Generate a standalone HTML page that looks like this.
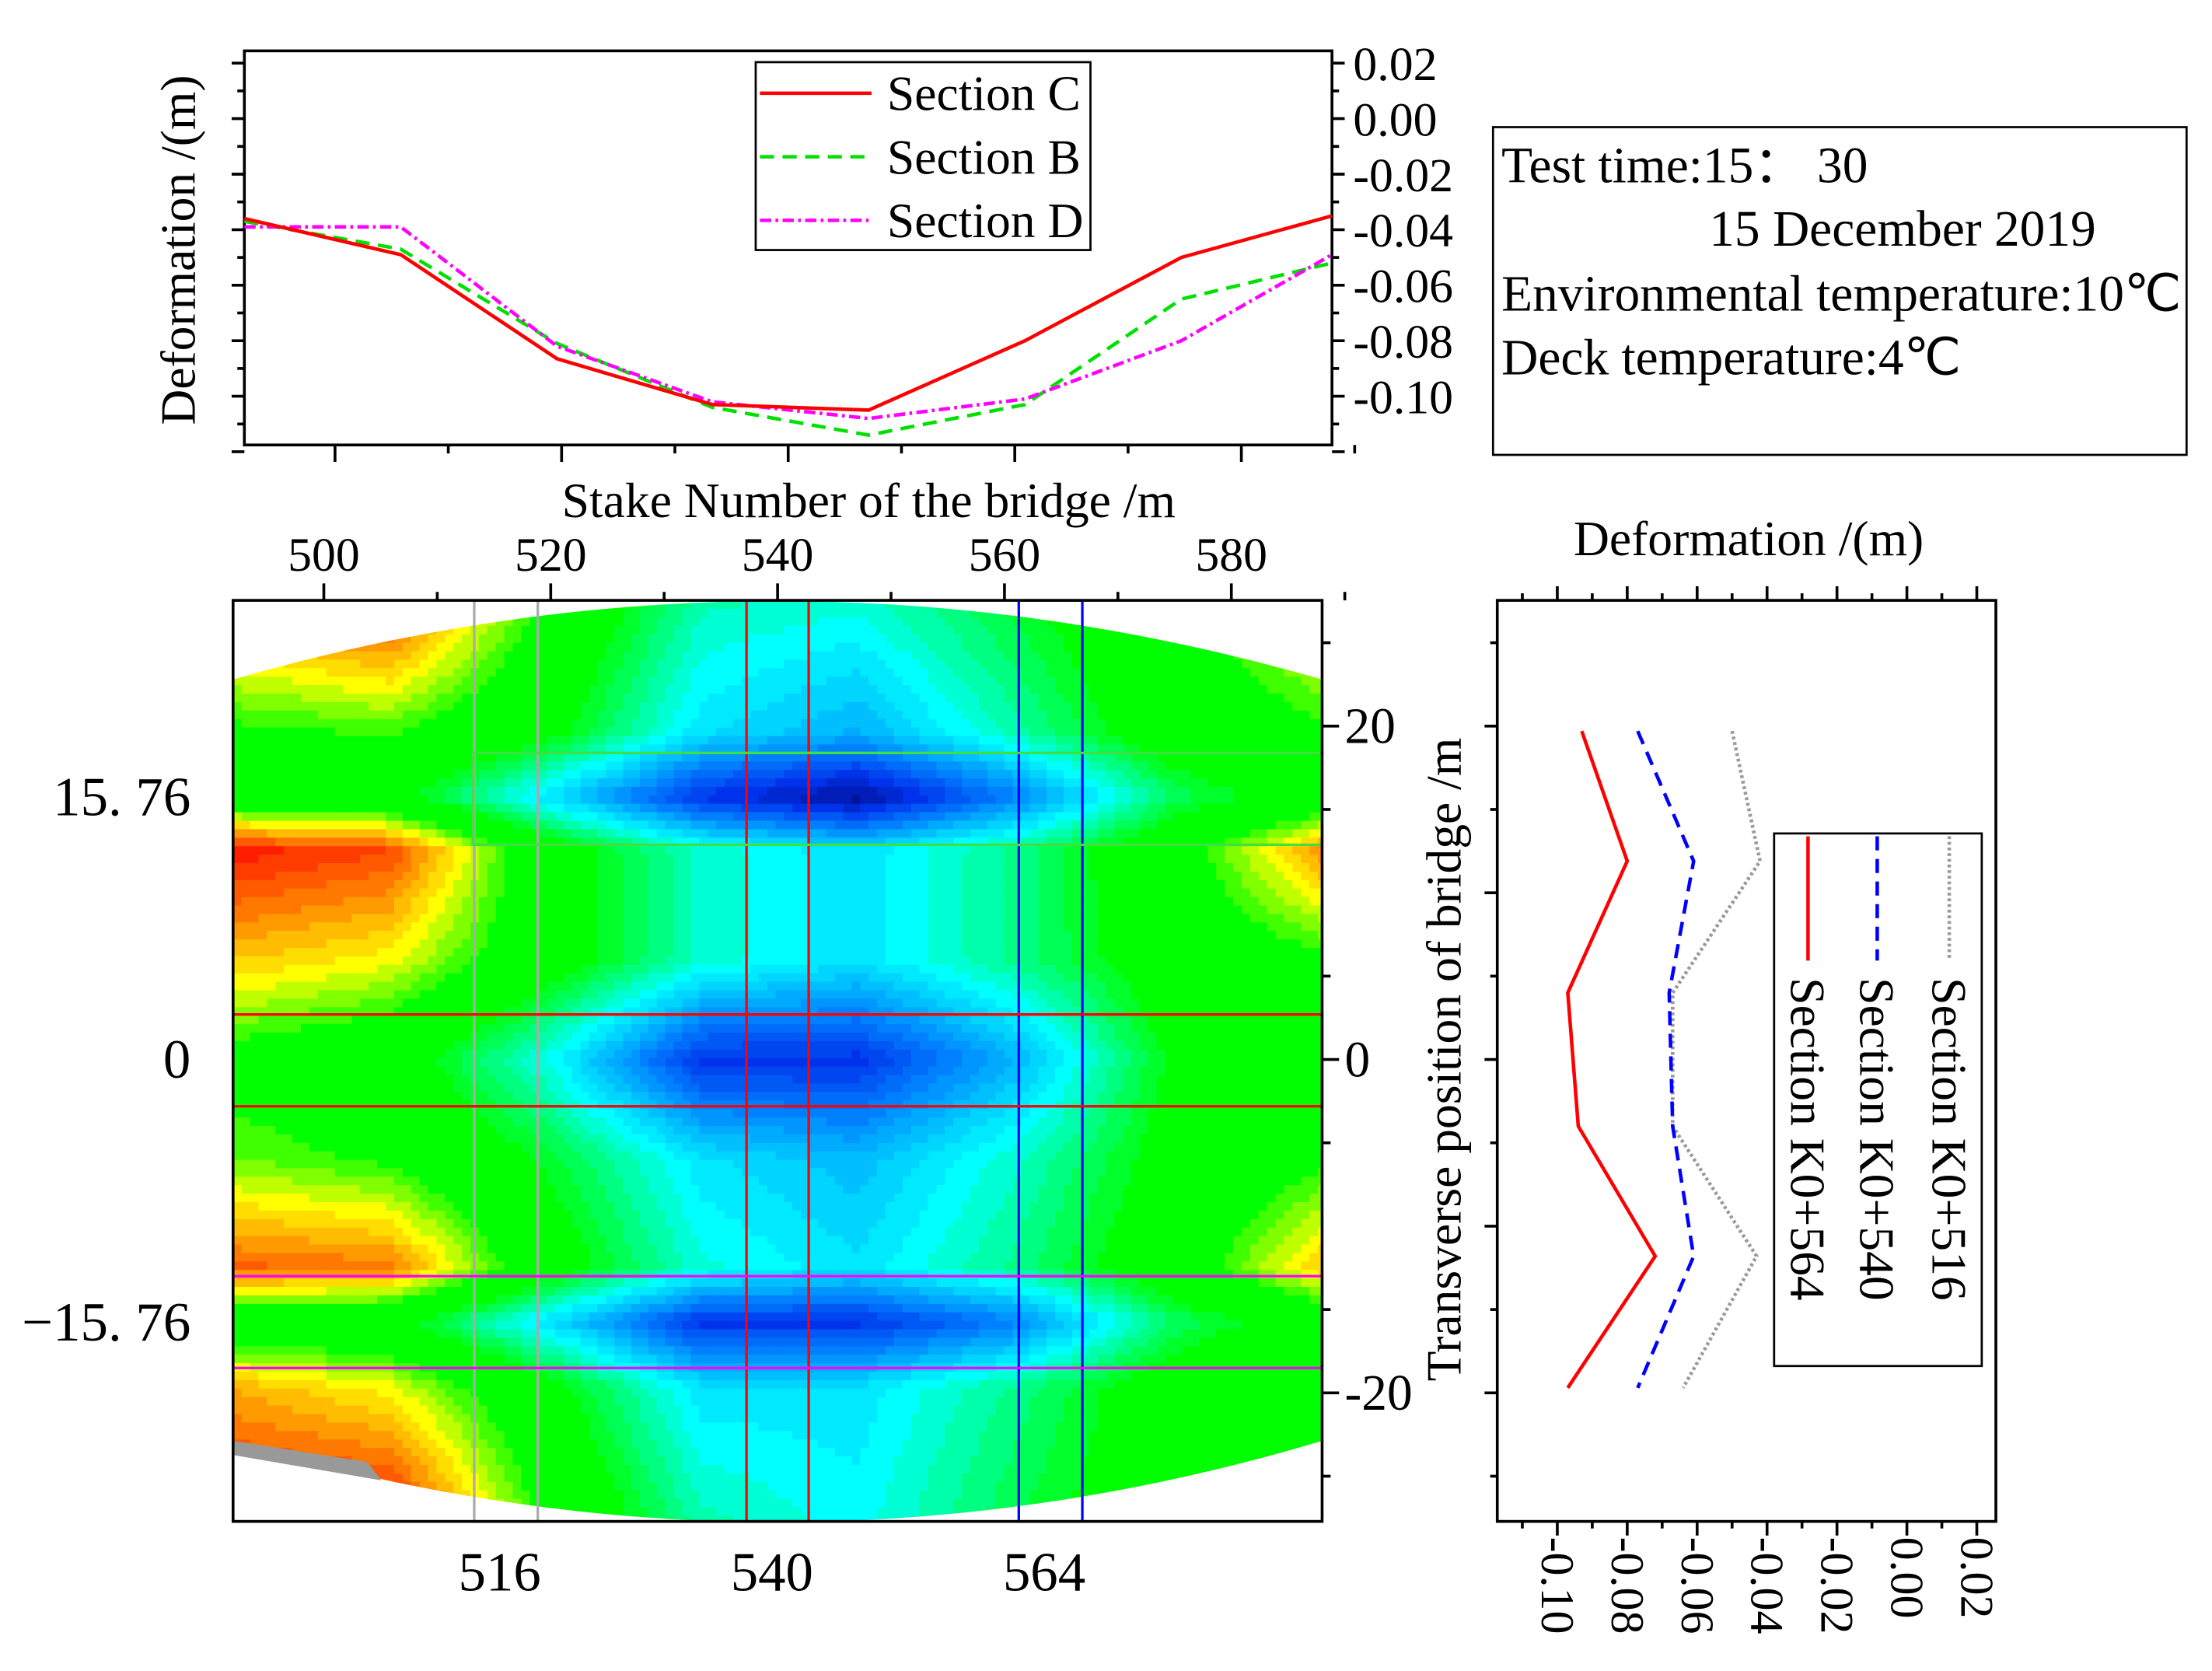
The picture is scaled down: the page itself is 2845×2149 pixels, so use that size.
<!DOCTYPE html>
<html><head><meta charset="utf-8"><style>html,body{margin:0;padding:0;background:#fff}svg{display:block}text{font-family:"Liberation Serif",serif;fill:#000}</style></head>
<body>
<svg id="s" width="2845" height="2149" viewBox="0 0 1566 1182.9" xmlns="http://www.w3.org/2000/svg">
<rect width="1570" height="1190" fill="#fff"/>
<g id="top"></g>
<g id="cont"></g>
<g id="side"></g>
<g>
<rect x="1057" y="90" width="491" height="232" fill="none" stroke="#000" stroke-width="1.5"/>
<text x="1063" y="129" font-size="36">Test time:15：  30</text>
<text x="1210" y="174" font-size="36">15 December  2019</text>
<text x="1063" y="220" font-size="36">Environmental temperature:10℃</text>
<text x="1063" y="265" font-size="36">Deck temperature:4℃</text>
</g>
</svg>
<script>
const NS="http://www.w3.org/2000/svg";
function mk(p,t,a){const e=document.createElementNS(NS,t);for(const k in a)e.setAttribute(k,a[k]);p.appendChild(e);return e;}
// ---- data ----
const stakes=[492,505.8,519.6,533.3,547.1,560.9,574.7,588];
const secC=[-0.036,-0.049,-0.0865,-0.103,-0.105,-0.080,-0.050,-0.035];
const secB=[-0.037,-0.047,-0.081,-0.104,-0.114,-0.103,-0.065,-0.052];
const secD=[-0.039,-0.039,-0.082,-0.102,-0.108,-0.101,-0.080,-0.049];
const topTicks=[0.02,0.00,-0.02,-0.04,-0.06,-0.08,-0.10];
const topTickLabels=["0.02","0.00","-0.02","-0.04","-0.06","-0.08","-0.10"];
const xTicks=[500,520,540,560,580];
const gridY=[28,19.7,15.76,12.5,6,0,-6,-12.5,-15.76,-19.7,-28];
const gridV=[
[-0.030,-0.022,-0.050,-0.070,-0.072,-0.062,-0.052,-0.036],
[-0.050,-0.048,-0.058,-0.078,-0.084,-0.070,-0.055,-0.050],
[-0.056,-0.058,-0.078,-0.100,-0.108,-0.090,-0.066,-0.056],
[-0.022,-0.026,-0.056,-0.072,-0.078,-0.068,-0.054,-0.032],
[-0.036,-0.040,-0.056,-0.072,-0.078,-0.068,-0.056,-0.050],
[-0.052,-0.056,-0.074,-0.100,-0.100,-0.084,-0.060,-0.055],
[-0.046,-0.050,-0.062,-0.078,-0.083,-0.072,-0.058,-0.050],
[-0.028,-0.030,-0.056,-0.073,-0.078,-0.068,-0.055,-0.036],
[-0.056,-0.058,-0.078,-0.100,-0.100,-0.090,-0.066,-0.056],
[-0.034,-0.040,-0.058,-0.078,-0.078,-0.068,-0.056,-0.050],
[-0.020,-0.020,-0.050,-0.070,-0.075,-0.064,-0.055,-0.050]];
const sideY=[19.7,11.9,4,-4,-11.8,-19.7];
const k564=[-0.093,-0.080,-0.097,-0.094,-0.072,-0.097];
const k540=[-0.077,-0.061,-0.068,-0.067,-0.061,-0.077];
const k516=[-0.050,-0.042,-0.067,-0.067,-0.043,-0.064];
const sideTicks=[-0.10,-0.08,-0.06,-0.04,-0.02,0.00,0.02];
const sideTickLabels=["-0.10","-0.08","-0.06","-0.04","-0.02","0.00","0.02"];
const transTicks=[20,0,-20];
const secMarks=[516,540,564];
// ---- top chart ----
const T=document.getElementById('top');
const tx=v=>173+(v-492)*(770/96), ty=v=>84-v*1965;
mk(T,'rect',{x:173,y:36,width:770,height:279,fill:'none',stroke:'#000','stroke-width':2});
for(let v=0.02;v>=-0.1201;v-=0.01){const y=ty(v);const maj=Math.abs(Math.round(v*100)%2)==0;
 mk(T,'line',{x1:173-(maj?9:5),x2:173,y1:y,y2:y,stroke:'#000','stroke-width':2});
 mk(T,'line',{x1:943,x2:943+(maj?9:5),y1:y,y2:y,stroke:'#000','stroke-width':2});}
topTicks.forEach((v,i)=>{const t=mk(T,'text',{x:958,y:ty(v)+12,'font-size':34});t.textContent=topTickLabels[i];
 });
for(let v=500;v<=590;v+=10){mk(T,'line',{x1:tx(v),x2:tx(v),y1:315,y2:315+(v%20==0?12:6),stroke:'#000','stroke-width':2});}
const yt=mk(T,'text',{x:0,y:0,'font-size':35,transform:'translate(138,177) rotate(-90)','text-anchor':'middle'});yt.textContent='Deformation /(m)';

const xt=mk(T,'text',{x:615,y:366,'font-size':35,'text-anchor':'middle'});xt.textContent='Stake Number of the bridge /m';

function line(g,xs,ys,fx,fy,st,dash,name){const p=mk(g,'polyline',{points:xs.map((x,i)=>fx(x,i)+','+fy(ys[i],i)).join(' '),fill:'none',stroke:st,'stroke-width':2.5,'stroke-dasharray':dash});
 }
line(T,stakes,secB,x=>tx(x),y=>ty(y),'#00e000','10,6','line-section-b');
line(T,stakes,secD,x=>tx(x),y=>ty(y),'#ff00ff','8,3,2,3','line-section-d');
line(T,stakes,secC,x=>tx(x),y=>ty(y),'#ff0000','','line-section-c');
const lg=mk(T,'g',{});
mk(lg,'rect',{x:535,y:44,width:237,height:133,fill:'#fff',stroke:'#000','stroke-width':1.5});
[['Section C','#ff0000',''],['Section B','#00e000','10,6'],['Section D','#ff00ff','8,3,2,3']].forEach((d,i)=>{const y=66+i*45;
 mk(lg,'line',{x1:538,x2:617,y1:y,y2:y,stroke:d[1],'stroke-width':2.5,'stroke-dasharray':d[2]});
 const t=mk(lg,'text',{x:628,y:y+12,'font-size':35});t.textContent=d[0];});
// ---- contour ----
const C=document.getElementById('cont');
const cx=v=>165+(v-492)*(771/96), cy=v=>750-v*11.8;
const defs=mk(C,'defs',{});const cp=mk(defs,'clipPath',{id:'shape'});
mk(cp,'path',{d:'M165,481 Q550,370 936,481 L936,1020 Q550,1135 165,1020 Z'});
const stops=[[-0.02,[255,0,0]],[-0.03,[255,120,0]],[-0.04,[255,255,0]],[-0.05,[0,255,0]],[-0.06,[0,255,0]],[-0.075,[0,255,255]],[-0.09,[0,128,255]],[-0.1,[0,50,235]],[-0.112,[0,0,110]]];
function col(v){v=Math.round(v/0.0025)*0.0025;if(v>=stops[0][0])return 'rgb(255,0,0)';
 for(let i=1;i<stops.length;i++){if(v>=stops[i][0]){const a=stops[i-1],b=stops[i],t=(a[0]-v)/(a[0]-b[0]);
 return 'rgb('+a[1].map((c,k)=>Math.round(c+(b[1][k]-c)*t)).join(',')+')';}}return 'rgb(0,0,110)';}
function interp(arr,x){for(let i=0;i<arr.length-1;i++){const a=arr[i],b=arr[i+1];if((x-a)*(x-b)<=0)return [i,(x-a)/(b-a)];}return x<arr[0]===arr[0]<arr[1]?[0,0]:[arr.length-2,1];}
const hg=mk(C,'g',{'clip-path':'url(#shape)'});
const step=6;
for(let py=425;py<1077;py+=step){const yv=(750-(py+step/2))/11.8;const [r,ft]=interp(gridY,yv);
 for(let px=165;px<936;px+=step){const xv=492+(px+step/2-165)*96/771;const [c,fs]=interp(stakes,xv);
  const v=(gridV[r][c]*(1-fs)+gridV[r][c+1]*fs)*(1-ft)+(gridV[r+1][c]*(1-fs)+gridV[r+1][c+1]*fs)*ft;
  mk(hg,'rect',{x:px,y:py,width:step+0.6,height:step+0.6,fill:col(v)});}}
mk(C,'path',{d:'M165,1020 L260,1035 L270,1048 L165,1030Z',fill:'#999'});
const hl=(x,w,y,h,c,n)=>{const r=mk(C,'rect',{x,y,width:w,height:h,fill:'none',stroke:c,'stroke-width':1.8});};
hl(cx(secMarks[0])-22,45,425,652,'#aaa','section-516-band');
hl(cx(secMarks[1])-22,44,425,652,'#ff0000','section-540-band');
hl(cx(secMarks[2])-22,45,425,652,'#0000ff','section-564-band');
hl(335,601,533,65,'#40e040','section-b-band');
hl(165,771,cy(2.7),65,'#ff0000','section-c-band');
hl(165,771,cy(-13),65,'#ff00ff','section-d-band');
mk(C,'rect',{x:165,y:425,width:771,height:652,fill:'none',stroke:'#000','stroke-width':2});
for(let v=500;v<=590;v+=10){const maj=v%20==0;mk(C,'line',{x1:cx(v),x2:cx(v),y1:425,y2:425-(maj?12:6),stroke:'#000','stroke-width':2});}
xTicks.forEach(v=>{const t=mk(C,'text',{x:cx(v),y:404,'font-size':34,'text-anchor':'middle'});t.textContent=v;
 });
for(let v=-25;v<=25;v+=10){mk(C,'line',{x1:936,x2:942,y1:cy(v),y2:cy(v),stroke:'#000','stroke-width':2});}
transTicks.forEach(v=>{mk(C,'line',{x1:936,x2:948,y1:cy(v),y2:cy(v),stroke:'#000','stroke-width':2});
 const t=mk(C,'text',{x:952,y:cy(v)+12,'font-size':36});t.textContent=v;});
[[15.76,'15.76'],[0,'0'],[-15.76,'−15.76']].forEach(d=>{const t=mk(C,'text',{x:135,y:cy(d[0])+13,'font-size':39,'text-anchor':'end'});t.textContent=d[1].replace('.','. ');
 });
secMarks.forEach(v=>{const t=mk(C,'text',{x:cx(v)-4,y:1126,'font-size':39,'text-anchor':'middle'});t.textContent=v;
 });
const ty2=mk(C,'text',{x:0,y:0,'font-size':35,transform:'translate(1034,750) rotate(-90)','text-anchor':'middle'});ty2.textContent='Transverse position of bridge /m';

// ---- side chart ----
const S=document.getElementById('side');
const sx=v=>1350+v*2475, sy=v=>750-v*11.8;
mk(S,'rect',{x:1060,y:425,width:353,height:652,fill:'none',stroke:'#000','stroke-width':2});
for(let v=-0.11;v<=0.0201;v+=0.01){const maj=Math.abs(Math.round(v*100))%2==0;const x=sx(v);
 mk(S,'line',{x1:x,x2:x,y1:1077,y2:1077+(maj?10:5),stroke:'#000','stroke-width':2});
 mk(S,'line',{x1:x,x2:x,y1:425,y2:425-(maj?10:5),stroke:'#000','stroke-width':2});}
for(let v=-25;v<=25;v+=5){const maj=v%10==0;mk(S,'line',{x1:1060,x2:1060-(maj?9:5),y1:sy(v),y2:sy(v),stroke:'#000','stroke-width':2});}
sideTicks.forEach((v,i)=>{const t=mk(S,'text',{x:0,y:0,'font-size':33,transform:'translate('+(sx(v)-11)+',1088) rotate(90)'});t.textContent=sideTickLabels[i];
 });
const st=mk(S,'text',{x:1238,y:393,'font-size':35,'text-anchor':'middle'});st.textContent='Deformation /(m)';

line(S,k516,sideY,v=>sx(v),v=>sy(v),'#999','2,2','line-k0-516');
line(S,k540,sideY,v=>sx(v),v=>sy(v),'#0000ff','10,6','line-k0-540');
line(S,k564,sideY,v=>sx(v),v=>sy(v),'#ff0000','','line-k0-564');
const sl=mk(S,'g',{});
mk(sl,'rect',{x:1256,y:590,width:147,height:377,fill:'#fff',stroke:'#000','stroke-width':1.5});
[['Section K0+516','#999','2,2',1380],['Section K0+540','#0000ff','10,6',1329],['Section K0+564','#ff0000','',1280]].forEach(d=>{
 mk(sl,'line',{x1:d[3],x2:d[3],y1:592,y2:680,stroke:d[1],'stroke-width':2.5,'stroke-dasharray':d[2]});
 const t=mk(sl,'text',{x:0,y:0,'font-size':35,transform:'translate('+(d[3]-12)+',692) rotate(90)'});t.textContent=d[0];});
</script>
</body></html>
